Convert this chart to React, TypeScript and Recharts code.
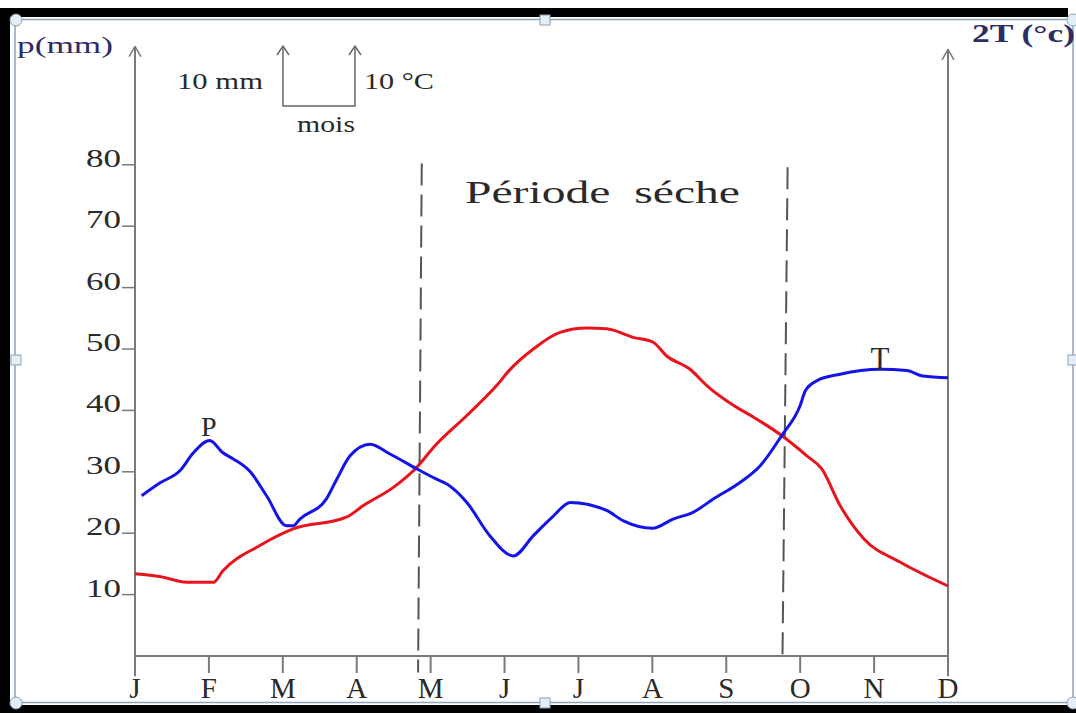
import React from "react";
import { LineChart, Line, XAxis, YAxis, ReferenceLine, ReferenceDot } from "recharts";

// month labels on the x axis (index = month position)
const months = ["J", "F", "M", "A", "M", "J", "J", "A", "S", "O", "N", "D"];
const monthTicks = [0, 1, 2, 3, 4, 5, 6, 7, 8, 9, 10, 11];
const valueTicks = [10, 20, 30, 40, 50, 60, 70, 80];

// P (mm) - blue curve, x in months from J
const precipMonth = [
  0.09, 0.34, 0.61, 0.79, 1.01, 1.19, 1.33, 1.56, 1.78, 2.05, 2.14, 2.23, 2.59, 2.73,
  2.91, 3.18, 3.45, 3.81, 4.08, 4.22, 4.49, 4.8, 5.12, 5.39, 5.66, 5.89, 6.38, 6.61,
  7.0, 7.28, 7.55, 7.83, 8.19, 8.46, 8.75, 9.0, 9.07, 9.22, 9.54, 10.08, 10.44, 10.66, 11.0,
];
const precipValue = [
  26.1, 28.2, 30.2, 33.1, 35.1, 33.1, 32.1, 30.0, 26.1, 21.2, 21.2, 22.3, 25.6, 28.8,
  32.6, 34.5, 32.9, 30.5, 28.8, 28.0, 25.0, 19.6, 16.3, 19.6, 22.8, 25.0, 23.7, 22.0,
  20.8, 22.3, 23.4, 25.6, 28.3, 31.0, 35.9, 40.8, 43.2, 44.8, 45.9, 46.7, 46.5, 45.6, 45.3,
];

// 2T (°C) - red curve
const tempMonth = [
  0.0, 0.35, 0.7, 1.06, 1.19, 1.69, 2.14, 2.86, 3.09, 3.5, 3.81, 4.04, 4.5, 4.89, 5.07,
  5.39, 5.75, 6.11, 6.38, 6.74, 7.01, 7.19, 7.51, 7.74, 8.1, 8.37, 8.75, 9.09, 9.29,
  9.54, 9.86, 10.35, 11.0,
];
const tempValue = [
  13.4, 12.9, 12.0, 12.0, 13.9, 18.0, 20.7, 22.6, 24.5, 27.5, 30.7, 34.0, 39.3, 44.0, 46.6,
  50.0, 52.7, 53.4, 53.3, 51.9, 51.1, 48.9, 46.7, 44.0, 40.8, 38.9, 35.9, 32.6, 30.5,
  24.5, 19.1, 15.3, 11.4,
];

const precipData = precipMonth.map((m, i) => ({ m, v: precipValue[i] }));
const tempData = tempMonth.map((m, i) => ({ m, v: tempValue[i] }));

const SERIF = "'Liberation Serif', 'Times New Roman', serif";
const AXIS = "#7a7a7a";
const INK = "#2a2a2a";
const NAVY = "#2c2c66";

function XTick({ x, y, payload }: any) {
  return (
    <g>
      <line x1={x} y1={y} x2={x} y2={y + 17} stroke={AXIS} strokeWidth={2} />
      <text x={x} y={y + 42} textAnchor="middle" fontSize={29} fontFamily={SERIF} fill={INK}>
        {months[payload.value]}
      </text>
    </g>
  );
}

function LeftTick({ x, y, payload }: any) {
  return (
    <g>
      <line x1={x - 13} y1={y} x2={x} y2={y} stroke={AXIS} strokeWidth={1.5} />
      <text x={x - 49} y={y + 2} fontSize={26} fontFamily={SERIF} fill={INK}
        textLength={35} lengthAdjust="spacingAndGlyphs">
        {payload.value}
      </text>
    </g>
  );
}

function RightTick({ x, y, payload }: any) {
  return (
    <g>
      <line x1={x} y1={y} x2={x + 12} y2={y} stroke={AXIS} strokeWidth={1.5} />
      <text x={x + 12} y={y + 2} fontSize={26} fontFamily={SERIF} fill={INK}
        textLength={38} lengthAdjust="spacingAndGlyphs">
        {payload.value}
      </text>
    </g>
  );
}

function Handle({ x, y, round }: { x: number; y: number; round?: boolean }) {
  return round ? (
    <circle cx={x} cy={y} r={6} fill="#e4eef8" stroke="#8aa0b8" strokeWidth={1} />
  ) : (
    <rect x={x - 5} y={y - 5} width={10} height={10} fill="#e4eef8" stroke="#8aa0b8" strokeWidth={1} />
  );
}

const seg = (x1: number, y1: number, x2: number, y2: number) => [
  { x: x1, y: y1 },
  { x: x2, y: y2 },
];

export default function App() {
  return (
    <div style={{ position: "absolute", left: 0, top: 0, width: 1076, height: 713, background: "#fff" }}>
      <LineChart width={1076} height={713} margin={{ top: 42, right: 0, bottom: 0, left: 0 }}>
        <XAxis
          dataKey="m"
          type="number"
          domain={[0, 11]}
          ticks={monthTicks}
          allowDuplicatedCategory={false}
          height={57}
          axisLine={{ stroke: AXIS, strokeWidth: 2 }}
          tickLine={false}
          tickSize={0}
          tickMargin={0}
          tick={<XTick />}
          interval={0}
        />
        <YAxis
          yAxisId="left"
          domain={[0, 100]}
          ticks={valueTicks}
          width={135}
          axisLine={false}
          tickLine={false}
          tickSize={0}
          tickMargin={0}
          tick={<LeftTick />}
          interval={0}
        />
        <YAxis
          yAxisId="right"
          orientation="right"
          domain={[0, 100]}
          ticks={valueTicks}
          width={128}
          axisLine={false}
          tickLine={false}
          tickSize={0}
          tickMargin={0}
          tick={<RightTick />}
          interval={0}
        />

        {/* axis lines with arrows */}
        <ReferenceLine yAxisId="left" segment={seg(0, -3.3, 0, 99.3)} stroke={AXIS} strokeWidth={2} ifOverflow="visible" />
        <ReferenceLine yAxisId="left" segment={seg(0, 99.3, -0.08, 97.6)} stroke={AXIS} strokeWidth={1.5} ifOverflow="visible" />
        <ReferenceLine yAxisId="left" segment={seg(0, 99.3, 0.08, 97.6)} stroke={AXIS} strokeWidth={1.5} ifOverflow="visible" />
        <ReferenceLine yAxisId="left" segment={seg(11, -3.3, 11, 98.8)} stroke={AXIS} strokeWidth={2} ifOverflow="visible" />
        <ReferenceLine yAxisId="left" segment={seg(11, 98.8, 10.92, 97.1)} stroke={AXIS} strokeWidth={1.5} ifOverflow="visible" />
        <ReferenceLine yAxisId="left" segment={seg(11, 98.8, 11.08, 97.1)} stroke={AXIS} strokeWidth={1.5} ifOverflow="visible" />

        {/* limits of the dry period */}
        <ReferenceLine yAxisId="left" segment={seg(3.88, 80.2, 3.83, -2.7)} stroke="#555" strokeWidth={2}
          strokeDasharray="22 9" ifOverflow="visible" />
        <ReferenceLine yAxisId="left" segment={seg(8.83, 79.6, 8.76, -0.9)} stroke="#555" strokeWidth={2}
          strokeDasharray="22 9" ifOverflow="visible" />

        <Line yAxisId="left" data={tempData} dataKey="v" type="monotone" stroke="#e8141c" strokeWidth={3}
          dot={false} activeDot={false} isAnimationActive={false} />
        <Line yAxisId="left" data={precipData} dataKey="v" type="monotone" stroke="#1414e6" strokeWidth={3}
          dot={false} activeDot={false} isAnimationActive={false} />

        <ReferenceDot yAxisId="left" x={1.0} y={35.1} r={0} fill="none" stroke="none"
          label={{ value: "P", position: "top", offset: 4, fontSize: 28, fontFamily: SERIF, fill: INK }} />
        <ReferenceDot yAxisId="left" x={10.08} y={46.7} r={0} fill="none" stroke="none"
          label={{ value: "T", position: "top", offset: 0, fontSize: 31, fontFamily: SERIF, fill: INK }} />
      </LineChart>

      <svg width={1076} height={713} style={{ position: "absolute", left: 0, top: 0, pointerEvents: "none" }}>
        {/* picture frame */}
        <rect x={0} y={8} width={1068} height={9} fill="#000" />
        <rect x={0} y={8} width={10} height={705} fill="#000" />
        <rect x={0} y={705} width={1076} height={8} fill="#000" />
        <rect x={15} y={19.5} width={1058} height={683} fill="none" stroke="#8fa2b6" strokeWidth={1.5} />
        <Handle x={16} y={20} round />
        <Handle x={1073} y={20} round />
        <Handle x={16} y={703} round />
        <Handle x={1073} y={703} round />
        <Handle x={545} y={20} />
        <Handle x={545} y={703} />
        <Handle x={16} y={360} />
        <Handle x={1073} y={360} />

        {/* axis titles */}
        <text x={17} y={53} fontSize={24} fontFamily={SERIF} fill={NAVY} textLength={96} lengthAdjust="spacingAndGlyphs">
          p(mm)
        </text>
        <text x={972} y={42} fontSize={26} fontWeight="bold" fontFamily={SERIF} fill={NAVY} textLength={103}
          lengthAdjust="spacingAndGlyphs">
          2T (°c)
        </text>

        {/* scale key */}
        <g stroke="#666" strokeWidth={1.5} fill="none">
          <polyline points="283,46 283,106 355,106 355,46" />
          <polyline points="277,55 283,46 289,55" />
          <polyline points="349,55 355,46 361,55" />
        </g>
        <text x={177} y={89} fontSize={23} fontFamily={SERIF} fill={INK} textLength={86} lengthAdjust="spacingAndGlyphs">
          10 mm
        </text>
        <text x={364} y={89} fontSize={23} fontFamily={SERIF} fill={INK} textLength={70} lengthAdjust="spacingAndGlyphs">
          10 °C
        </text>
        <text x={297} y={132} fontSize={23} fontFamily={SERIF} fill={INK} textLength={58} lengthAdjust="spacingAndGlyphs">
          mois
        </text>

        <text x={465} y={203} fontSize={31} fontFamily={SERIF} fill={INK} textLength={275} lengthAdjust="spacingAndGlyphs"
          style={{ whiteSpace: "pre" }}>
          Période  séche
        </text>
      </svg>
    </div>
  );
}
